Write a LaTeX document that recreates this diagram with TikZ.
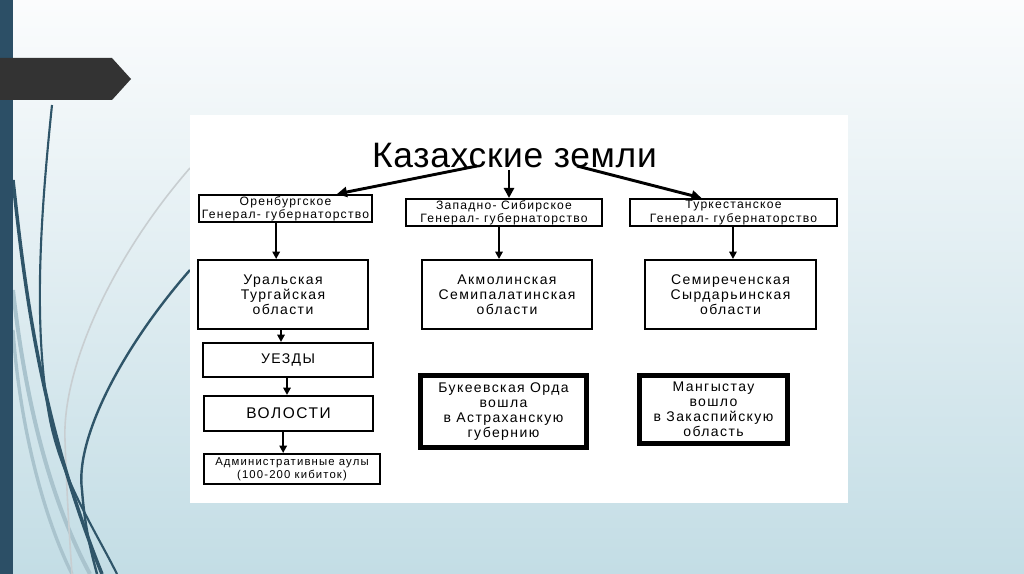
\documentclass[tikz,border=0pt]{standalone}
\usepackage{fontspec}
\setmainfont{Liberation Sans}
\newfontfamily\boxfont[LetterSpace=10]{Liberation Sans}
\newfontfamily\titlefont[LetterSpace=2]{Liberation Sans}
\usetikzlibrary{arrows.meta}
\definecolor{bgtop}{HTML}{FBFCFD}
\definecolor{bgbot}{HTML}{C3DDE5}
\definecolor{barc}{HTML}{2C4F66}
\definecolor{curvedark}{HTML}{2F5569}
\definecolor{curvelight}{HTML}{A9C3CD}
\definecolor{curvegrey}{HTML}{C8CED1}
\definecolor{banner}{HTML}{333333}
\tikzset{
  box/.style={draw, line width=1.5pt, fill=white, align=center, inner sep=0pt, text=black},
  thickbox/.style={box, line width=3.8pt},
  toptext/.style={font=\boxfont\fontsize{9.1}{9.9}\selectfont},
  midtext/.style={font=\boxfont\fontsize{10.5}{11.25}\selectfont},
  bigarrow/.style={line width=2.2pt, -{Triangle[length=7.5pt,width=7.5pt]}},
  smallarrow/.style={line width=1.5pt, -{Triangle[length=5.5pt,width=5.5pt]}},
}
\begin{document}
\begin{tikzpicture}[x=0.75pt,y=-0.75pt]
\useasboundingbox (0,0) rectangle (1024,574);
% background
\fill[top color=bgtop, bottom color=bgbot] (0,0) rectangle (1024,574);
% decorative curves
\draw[curvelight, line width=3pt] (13,290) .. controls (25,400) and (50,500) .. (90,574);
\draw[curvelight, line width=2.5pt] (13,330) .. controls (20,430) and (45,520) .. (72,574);
\draw[curvegrey, line width=1.2pt] (190,168) .. controls (110,260) and (62,370) .. (65,440) .. controls (67,500) and (70,545) .. (72,574);
\draw[curvedark, line width=1.6pt] (52,105) .. controls (40,220) and (33,330) .. (50,420) .. controls (62,480) and (95,530) .. (117,574);
\draw[curvedark, line width=2.6pt] (13,180) .. controls (25,290) and (40,420) .. (102,574);
\draw[curvedark, line width=1.8pt] (190,270) .. controls (120,350) and (75,440) .. (82,490) .. controls (85,530) and (92,555) .. (97,574);
% left bar
\fill[barc] (0,0) rectangle (13,574);
% banner
\fill[banner] (0,58) -- (112,58) -- (131,79) -- (112,100) -- (0,100) -- cycle;
% white panel
\fill[white] (190,115) rectangle (848,503);
% title
\node[anchor=base, font=\titlefont\fontsize{26.5}{30}\selectfont, inner sep=0pt] (T) at (514.5,167) {Казахские земли};
\coordinate (tl) at (477,166);
\coordinate (tm) at (509,170);
\coordinate (tr) at (577,166);
% boxes
\node[box, toptext, minimum width=129.75pt, minimum height=20.25pt] (B1) at (285.5,208.5) {Оренбургское\\Генерал- губернаторство};
\node[box, toptext, minimum width=147pt, minimum height=20.25pt] (B2) at (504,212.5) {Западно- Сибирское\\Генерал- губернаторство};
\node[box, toptext, minimum width=155.25pt, minimum height=20.25pt] (B3) at (733.5,212.5) {Туркестанское\\Генерал- губернаторство};
\node[box, midtext, minimum width=127.5pt, minimum height=51.75pt] (U) at (283,294.5) {Уральская\\Тургайская\\области};
\node[box, midtext, minimum width=127.5pt, minimum height=51.75pt] (A) at (507,294.5) {Акмолинская\\Семипалатинская\\области};
\node[box, midtext, minimum width=128.25pt, minimum height=51.75pt] (S) at (730.5,294.5) {Семиреченская\\Сырдарьинская\\области};
\node[box, midtext, minimum width=127.5pt, minimum height=25.5pt] (UE) at (288,360) {УЕЗДЫ};
\node[box, font=\boxfont\fontsize{11.6}{13}\selectfont, minimum width=126.75pt, minimum height=26.25pt] (V) at (288.5,413.5) {ВОЛОСТИ};
\node[box, font=\boxfont\fontsize{8.5}{10}\selectfont, minimum width=132pt, minimum height=22.5pt] (AD) at (292,469) {Административные аулы\\(100-200 кибиток)};
\node[thickbox, midtext, minimum width=124.5pt, minimum height=54pt] (BK) at (503.5,411.5) {Букеевская Орда\\вошла\\в Астраханскую\\губернию};
\node[thickbox, midtext, minimum width=111pt, minimum height=51pt] (MG) at (713.5,409.5) {Мангыстау\\вошло\\в Закаспийскую\\область};
% arrows from title
\draw[bigarrow] (tl) -- ([xshift=38.6pt]B1.north);
\draw[bigarrow] (tm) -- (tm |- B2.north);
\draw[bigarrow] (tr) -- ([xshift=-24pt]B3.north);
% arrows down
\draw[smallarrow] ([xshift=-7pt]B1.south) -- ([xshift=-7pt]B1.south |- U.north);
\draw[smallarrow] ([xshift=-3.75pt]B2.south) -- ([xshift=-3.75pt]B2.south |- A.north);
\draw[smallarrow] ([xshift=-0.4pt]B3.south) -- ([xshift=-0.4pt]B3.south |- S.north);
\draw[smallarrow] ([xshift=-1.5pt]U.south) -- ([xshift=-1.5pt]U.south |- UE.north);
\draw[smallarrow] ([xshift=-0.75pt]UE.south) -- ([xshift=-0.75pt]UE.south |- V.north);
\draw[smallarrow] ([xshift=-4pt]V.south) -- ([xshift=-4pt]V.south |- AD.north);
\end{tikzpicture}
\end{document}
